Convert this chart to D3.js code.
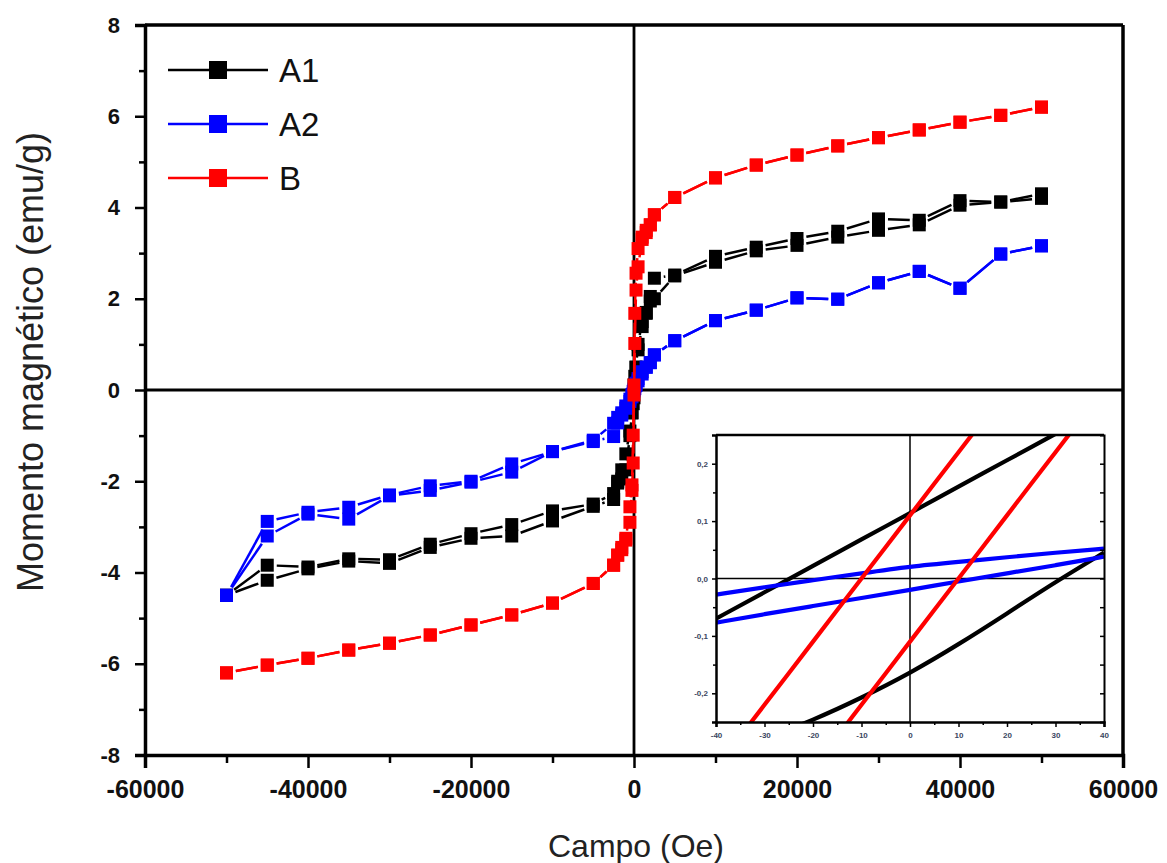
<!DOCTYPE html>
<html>
<head>
<meta charset="utf-8">
<script src="https://cdn.jsdelivr.net/npm/d3@7"></script>
<style>
  html, body { margin: 0; padding: 0; background: #ffffff; }
  svg { display: block; }
  text { font-family: "Liberation Sans", Arial, sans-serif; }
</style>
</head>
<body>
<svg id="chart" width="1167" height="863"></svg>
<script>
// ---------------- DATA ----------------
const seriesNames = ["A1", "A2", "B"];
const seriesColors = ["#000000", "#0000ff", "#ff0000"];

// field values (Oe) of the descending branch, from +50000 down to -50000
const fieldDown = [50000, 45000, 40000, 35000, 30000, 25000, 20000, 15000, 10000, 5000,
  2500, 2000, 1500, 1000, 500, 250, 100, 0, -100, -250, -500, -1000, -1500, -2000, -2500,
  -5000, -10000, -15000, -20000, -25000, -30000, -35000, -40000, -45000, -50000];
// ascending branch uses the same fields, from -50000 up to +50000
const fieldUp = fieldDown.slice().reverse();

// A1 (emu/g)
const a1Down = [4.30, 4.12, 4.15, 3.72, 3.75, 3.48, 3.32, 3.13, 2.93, 2.52,
  2.45, 2.05, 1.68, 1.39, 0.88, 0.50, 0.30, 0.11, -0.10, -0.50, -1.00, -1.75, -1.95, -2.04, -2.27,
  -2.50, -2.65, -2.95, -3.15, -3.38, -3.72, -3.70, -3.88, -3.84, -4.50];
const a1Up = [-4.50, -4.17, -3.92, -3.75, -3.80, -3.45, -3.25, -3.20, -2.87, -2.55,
  -2.40, -2.00, -1.75, -1.40, -0.90, -0.50, -0.30, -0.17, 0.10, 0.50, 1.00, 1.50, 1.70, 1.95, 2.00,
  2.50, 2.80, 3.05, 3.17, 3.35, 3.50, 3.62, 4.05, 4.12, 4.20];

// A2 (emu/g)
const a2Down = [3.16, 2.98, 2.23, 2.60, 2.35, 1.99, 2.02, 1.75, 1.52, 1.08,
  0.77, 0.60, 0.50, 0.40, 0.25, 0.15, 0.08, 0.02, -0.03, -0.10, -0.20, -0.35, -0.50, -0.60, -0.73,
  -1.10, -1.35, -1.62, -2.00, -2.10, -2.30, -2.57, -2.68, -2.88, -4.50];
const a2Up = [-4.50, -3.20, -2.72, -2.83, -2.32, -2.20, -2.02, -1.80, -1.35, -1.13,
  -1.02, -0.72, -0.55, -0.40, -0.25, -0.15, -0.08, -0.02, 0.03, 0.10, 0.20, 0.35, 0.50, 0.60, 0.77,
  1.08, 1.52, 1.75, 2.02, 1.99, 2.35, 2.60, 2.23, 2.98, 3.16];

// B (emu/g)
const bDown = [6.20, 6.02, 5.87, 5.70, 5.53, 5.35, 5.15, 4.93, 4.65, 4.22,
  3.84, 3.62, 3.50, 3.35, 3.10, 2.56, 1.68, 0.11, -0.99, -2.08, -2.56, -3.29, -3.50, -3.62, -3.84,
  -4.24, -4.67, -4.93, -5.15, -5.37, -5.55, -5.70, -5.88, -6.03, -6.20];
const bUp = [-6.20, -6.03, -5.88, -5.70, -5.55, -5.37, -5.15, -4.93, -4.67, -4.24,
  -3.84, -3.62, -3.45, -3.25, -2.90, -2.20, -1.60, -0.11, 1.02, 2.19, 2.70, 3.30, 3.45, 3.62, 3.84,
  4.22, 4.65, 4.93, 5.15, 5.35, 5.53, 5.70, 5.87, 6.02, 6.20];

// main axes ticks
const xTickValues = [-60000, -40000, -20000, 0, 20000, 40000, 60000];
const xMinorTicks = [-50000, -30000, -10000, 10000, 30000, 50000];
const yTickValues = [-8, -6, -4, -2, 0, 2, 4, 6, 8];
const yMinorTicks = [-7, -5, -3, -1, 1, 3, 5, 7];
const xTitle = "Campo (Oe)";
const yTitle = "Momento magnético (emu/g)";

// inset (zoom near the origin, Oe vs emu/g)
const insetField = [-40, -30, -20, -10, 0, 10, 20, 30, 40];
const insetA1Upper = [-0.070, -0.024, 0.022, 0.068, 0.114, 0.160, 0.206, 0.252, 0.298];
const insetA1Lower = [-0.310, -0.279, -0.247, -0.208, -0.165, -0.115, -0.061, -0.006, 0.045];
const insetA2Upper = [-0.028, -0.015, -0.003, 0.009, 0.021, 0.029, 0.037, 0.045, 0.052];
const insetA2Lower = [-0.077, -0.062, -0.048, -0.034, -0.020, -0.005, 0.009, 0.023, 0.038];
const insetBUpper = [-0.33, -0.22, -0.11, 0.00, 0.11, 0.22, 0.33, 0.44, 0.55];
const insetBLower = [-0.55, -0.44, -0.33, -0.22, -0.11, 0.00, 0.11, 0.22, 0.33];
const insetXTicks = [-40, -30, -20, -10, 0, 10, 20, 30, 40];
const insetXTickLabels = ["-40", "-30", "-20", "-10", "0", "10", "20", "30", "40"];
const insetXMinor = [-35, -25, -15, -5, 5, 15, 25, 35];
const insetYTicks = [-0.2, -0.1, 0.0, 0.1, 0.2];
const insetYTickLabels = ["-0,2", "-0,1", "0,0", "0,1", "0,2"];
const insetYMinor = [-0.15, -0.05, 0.05, 0.15];

// ---------------- DRAW ----------------
const svg = d3.select("#chart");
const P = { left: 145, right: 1123, top: 25, bottom: 755 };

const x = d3.scaleLinear().domain([-60000, 60000]).range([P.left, P.right]);
const y = d3.scaleLinear().domain([-8, 8]).range([P.bottom, P.top]);

// zero lines
svg.append("line").attr("x1", x(0)).attr("x2", x(0)).attr("y1", P.top).attr("y2", P.bottom)
  .attr("stroke", "#000").attr("stroke-width", 2.8);
svg.append("line").attr("x1", P.left).attr("x2", P.right).attr("y1", y(0)).attr("y2", y(0))
  .attr("stroke", "#000").attr("stroke-width", 2.8);

const series = [
  { name: seriesNames[0], color: seriesColors[0], down: a1Down, up: a1Up },
  { name: seriesNames[1], color: seriesColors[1], down: a2Down, up: a2Up },
  { name: seriesNames[2], color: seriesColors[2], down: bDown, up: bUp }
];

const MS = 13;      // marker size
const GAP = MS / 2 + 3; // line gap around each marker (Origin style)

series.forEach(s => {
  const pts = fieldDown.map((f, i) => [f, s.down[i]])
    .concat(fieldUp.map((f, i) => [f, s.up[i]]));
  const g = svg.append("g");
  const segs = [];
  for (let i = 0; i < pts.length - 1; i++) {
    const x1 = x(pts[i][0]), y1 = y(pts[i][1]);
    const x2 = x(pts[i + 1][0]), y2 = y(pts[i + 1][1]);
    const L = Math.hypot(x2 - x1, y2 - y1);
    if (L > 2 * GAP + 1) {
      const ux = (x2 - x1) / L, uy = (y2 - y1) / L;
      segs.push([x1 + ux * GAP, y1 + uy * GAP, x2 - ux * GAP, y2 - uy * GAP]);
    }
  }
  g.selectAll("line").data(segs).enter().append("line")
    .attr("x1", d => d[0]).attr("y1", d => d[1]).attr("x2", d => d[2]).attr("y2", d => d[3])
    .attr("stroke", s.color).attr("stroke-width", 2.5);
  g.selectAll("rect").data(pts).enter().append("rect")
    .attr("x", d => x(d[0]) - MS / 2).attr("y", d => y(d[1]) - MS / 2)
    .attr("width", MS).attr("height", MS).attr("fill", s.color);
});

// main axes
const fmt = d => String(d);
const gy = svg.append("g").attr("transform", `translate(${P.left},0)`)
  .call(d3.axisLeft(y).tickValues(yTickValues).tickSize(10).tickPadding(15).tickFormat(fmt));
gy.select(".domain").attr("stroke-width", 3.5);
gy.selectAll(".tick line").attr("stroke-width", 2.5);
gy.selectAll(".tick text").attr("font-size", 22).attr("font-weight", "bold")
  .attr("font-family", "'Liberation Sans', Arial, sans-serif").attr("fill", "#111");
const gym = svg.append("g").attr("transform", `translate(${P.left},0)`)
  .call(d3.axisLeft(y).tickValues(yMinorTicks).tickSize(6).tickFormat(""));
gym.select(".domain").remove();
gym.selectAll(".tick line").attr("stroke-width", 2.5);

const gx = svg.append("g").attr("transform", `translate(0,${P.bottom})`)
  .call(d3.axisBottom(x).tickValues(xTickValues).tickSize(13).tickPadding(12).tickFormat(fmt));
gx.select(".domain").attr("stroke-width", 3.5);
gx.selectAll(".tick line").attr("stroke-width", 2.5);
gx.selectAll(".tick text").attr("font-size", 25).attr("font-weight", "bold")
  .attr("font-family", "'Liberation Sans', Arial, sans-serif").attr("fill", "#111");
const gxm = svg.append("g").attr("transform", `translate(0,${P.bottom})`)
  .call(d3.axisBottom(x).tickValues(xMinorTicks).tickSize(8).tickFormat(""));
gxm.select(".domain").remove();
gxm.selectAll(".tick line").attr("stroke-width", 2.5);

// top & right border
svg.append("line").attr("x1", P.left).attr("x2", P.right).attr("y1", P.top).attr("y2", P.top)
  .attr("stroke", "#000").attr("stroke-width", 3.5);
svg.append("line").attr("x1", P.right).attr("x2", P.right).attr("y1", P.top).attr("y2", P.bottom)
  .attr("stroke", "#000").attr("stroke-width", 3.5);

// titles
svg.append("text").attr("x", (P.left + P.right) / 2 + 2).attr("y", 857)
  .attr("text-anchor", "middle").attr("font-size", 32).attr("fill", "#222").text(xTitle);
svg.append("text").attr("transform", "translate(43,362) rotate(-90)")
  .attr("text-anchor", "middle").attr("font-size", 36).attr("fill", "#222").text(yTitle);

// legend
const legY = [70, 124, 178];
series.forEach((s, i) => {
  const g = svg.append("g");
  g.append("line").attr("x1", 168).attr("x2", 268).attr("y1", legY[i]).attr("y2", legY[i])
    .attr("stroke", s.color).attr("stroke-width", 2.5);
  g.append("rect").attr("x", 218 - 9).attr("y", legY[i] - 9).attr("width", 18).attr("height", 18)
    .attr("fill", s.color);
  g.append("text").attr("x", 279).attr("y", legY[i] + 12).attr("font-size", 33)
    .attr("fill", "#111").text(s.name);
});

// ---------------- INSET ----------------
const I = { left: 716, right: 1104, top: 435, bottom: 722 };
const xi = d3.scaleLinear().domain([-40, 40]).range([I.left, I.right]);
const yi = d3.scaleLinear().domain([-0.25, 0.25]).range([I.bottom, I.top]);

svg.append("rect").attr("x", I.left).attr("y", I.top).attr("width", I.right - I.left)
  .attr("height", I.bottom - I.top).attr("fill", "#fff");
svg.append("defs").append("clipPath").attr("id", "insetClip").append("rect")
  .attr("x", I.left).attr("y", I.top).attr("width", I.right - I.left).attr("height", I.bottom - I.top);

const gi = svg.append("g").attr("clip-path", "url(#insetClip)");
gi.append("line").attr("x1", xi(0)).attr("x2", xi(0)).attr("y1", I.top).attr("y2", I.bottom)
  .attr("stroke", "#000").attr("stroke-width", 1.5);
gi.append("line").attr("x1", I.left).attr("x2", I.right).attr("y1", yi(0)).attr("y2", yi(0))
  .attr("stroke", "#000").attr("stroke-width", 1.5);

const iline = d3.line().x(d => xi(d[0])).y(d => yi(d[1])).curve(d3.curveBasis);
const insetSets = [
  { color: seriesColors[0], vals: insetA1Upper },
  { color: seriesColors[0], vals: insetA1Lower },
  { color: seriesColors[1], vals: insetA2Upper },
  { color: seriesColors[1], vals: insetA2Lower },
  { color: seriesColors[2], vals: insetBUpper },
  { color: seriesColors[2], vals: insetBLower }
];
insetSets.forEach(s => {
  gi.append("path").attr("d", iline(insetField.map((f, i) => [f, s.vals[i]])))
    .attr("fill", "none").attr("stroke", s.color).attr("stroke-width", 4.2);
});

// inset axes
const labStyle = sel => sel.attr("font-size", 8).attr("font-weight", "bold")
  .attr("font-family", "'Liberation Sans', Arial, sans-serif").attr("fill", "#3a4660");

const giy = svg.append("g").attr("transform", `translate(${I.left},0)`)
  .call(d3.axisLeft(yi).tickValues(insetYTicks).tickSize(4).tickPadding(4)
    .tickFormat((d, i) => insetYTickLabels[i]));
giy.select(".domain").attr("stroke-width", 2.5);
giy.selectAll(".tick line").attr("stroke-width", 1.5);
labStyle(giy.selectAll(".tick text"));
const giym = svg.append("g").attr("transform", `translate(${I.left},0)`)
  .call(d3.axisLeft(yi).tickValues(insetYMinor).tickSize(3).tickFormat(""));
giym.select(".domain").remove();
giym.selectAll(".tick line").attr("stroke-width", 1.5);

const giyr = svg.append("g").attr("transform", `translate(${I.right},0)`)
  .call(d3.axisRight(yi).tickValues(insetYTicks.concat(insetYMinor)).tickSize(-4).tickFormat(""));
giyr.select(".domain").attr("stroke-width", 2);
giyr.selectAll(".tick line").attr("stroke-width", 1.5);

const gix = svg.append("g").attr("transform", `translate(0,${I.bottom})`)
  .call(d3.axisBottom(xi).tickValues(insetXTicks).tickSize(5).tickPadding(5)
    .tickFormat((d, i) => insetXTickLabels[i]));
gix.select(".domain").attr("stroke-width", 2.5);
gix.selectAll(".tick line").attr("stroke-width", 1.5);
labStyle(gix.selectAll(".tick text"));
const gixm = svg.append("g").attr("transform", `translate(0,${I.bottom})`)
  .call(d3.axisBottom(xi).tickValues(insetXMinor).tickSize(3).tickFormat(""));
gixm.select(".domain").remove();
gixm.selectAll(".tick line").attr("stroke-width", 1.5);

svg.append("line").attr("x1", I.left).attr("x2", I.right).attr("y1", I.top).attr("y2", I.top)
  .attr("stroke", "#000").attr("stroke-width", 2.5);
</script>
</body>
</html>
